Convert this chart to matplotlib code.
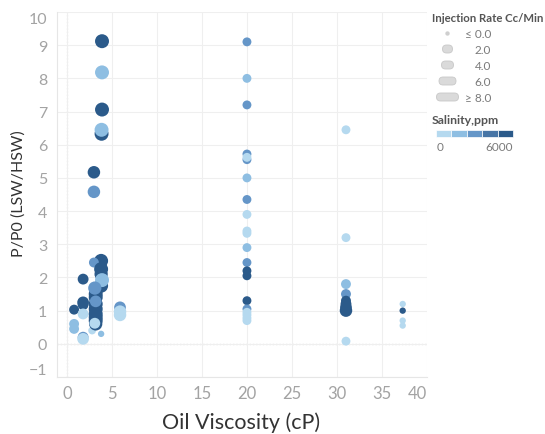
import matplotlib.pyplot as plt
from matplotlib.patches import FancyBboxPatch, Rectangle
from matplotlib.colors import BoundaryNorm, ListedColormap

plt.rcParams['font.family'] = ['Lato', 'DejaVu Sans']

# oil viscosity (cP), pressure ratio, salinity (ppm), injection rate (cc/min)
# one line per column of points
visc = [3.9, 3.9, 3.9, 3.85, 3.85, 3.0, 3.0,
        0.8, 0.8, 0.8, 1.8, 1.8, 1.8, 1.8, 1.8, 1.8, 2.8, 3.8,
        3.8, 3.0, 3.8, 3.8, 3.8, 3.2, 3.2, 3.2, 3.2, 3.2, 3.2, 3.2, 3.2, 3.2, 3.9, 3.1, 3.2, 3.1,
        5.9, 5.9, 5.9,
        20, 20, 20, 20, 20, 20, 20, 20, 20, 20, 20, 20, 20, 20, 20, 20, 20, 20, 20, 20, 20,
        31, 31, 31, 31, 31, 31, 31, 31, 31,
        37.3, 37.3, 37.3, 37.3]
ratio = [9.12, 8.18, 7.06, 6.33, 6.45, 5.17, 4.58,
         1.03, 0.6, 0.45, 1.95, 1.25, 1.18, 0.9, 0.2, 0.15, 0.4, 0.3,
         2.5, 2.45, 2.25, 2.1, 1.75, 1.6, 1.5, 1.4, 1.2, 1.05, 0.9, 0.8, 0.7, 0.6, 1.92, 1.68, 1.28, 0.62,
         1.1, 0.97, 0.87,
         9.1, 8.0, 7.2, 5.55, 5.72, 5.62, 5.0, 4.35, 3.9, 3.4, 3.33, 2.9, 2.45, 2.2, 2.05, 1.3, 1.05, 0.95, 0.87, 0.78, 0.7,
         6.45, 3.2, 1.8, 1.5, 1.3, 1.2, 1.1, 1.0, 0.08,
         1.2, 1.0, 0.7, 0.55]
salinity = [5800, 2000, 5800, 5800, 2000, 5800, 3000,
            5800, 2000, 2000, 5800, 5800, 5800, 500, 3000, 500, 500, 2000,
            5800, 3000, 5800, 5800, 5800, 5800, 5800, 5800, 5800, 5800, 5800, 5800, 5800, 5800, 2000, 3000, 3000, 500,
            3000, 500, 500,
            3000, 2000, 3000, 3000, 3000, 500, 2000, 3000, 500, 500, 500, 2000, 3000, 5800, 5800, 5800, 3000, 500, 500, 500, 500,
            500, 500, 2000, 3000, 5800, 5800, 5800, 5800, 500,
            500, 5800, 500, 500]
rate = [8, 8, 8, 8, 8, 6, 6,
        3, 3, 3, 4, 5, 4, 4, 4, 5, 1, 0,
        8, 3, 8, 7, 8, 7, 8, 8, 8, 8, 8, 8, 8, 7, 8, 7, 5, 4,
        5, 6, 6,
        2, 2, 2, 2, 2, 2, 2, 2, 2, 2, 2, 2, 2, 2, 2, 2, 2, 2, 2, 2, 2,
        2, 2, 3, 3, 3, 4, 5, 6, 2,
        0, 0, 0, 0]

blues = ['#b5d9ef', '#8ebee2', '#6596c8', '#4775a6', '#2b5a8a']
cmap = ListedColormap(blues)
norm = BoundaryNorm([0, 1200, 2400, 3600, 4800, 6000], cmap.N)

fig = plt.figure(figsize=(5.45, 4.35), dpi=100)
ax = fig.add_axes([57 / 545, 1 - 378 / 435, 370 / 545, 365 / 435])

sizes = [21 + r * 10 for r in rate]
ax.scatter(visc, ratio, s=sizes, c=salinity, cmap=cmap, norm=norm,
           linewidths=0, zorder=3)

ax.set_xlim(-1.1, 40)
ax.set_ylim(-1, 10)
ax.set_xticks(range(0, 41, 5))
ax.set_yticks(range(-1, 11))
ax.grid(True, color='#efefef', linewidth=0.8, zorder=0)
ax.axhline(0, color='#c8c8c8', linewidth=0.9, linestyle=':', zorder=1)
ax.axvline(0, color='#dcdcdc', linewidth=0.9, linestyle=':', zorder=1)
for side in ['top', 'right']:
    ax.spines[side].set_visible(False)
for side in ['left', 'bottom']:
    ax.spines[side].set_color('#e6e6e6')
ax.tick_params(length=0, colors='#a3a3a3')
ax.tick_params(axis='x', labelsize=12, pad=6)
ax.tick_params(axis='y', labelsize=11.5, pad=7)

ylabels = ax.get_yticklabels()
ylabels[0].set_verticalalignment('bottom')
ylabels[-1].set_verticalalignment('top')
ax.get_xticklabels()[-1].set_horizontalalignment('right')

fig.text(241 / 545, 1 - 423 / 435, 'Oil Viscosity (cP)', fontsize=15.5,
         color='#333333', ha='center', va='center')
fig.text(19 / 545, 1 - 194 / 435, 'P/P0 (LSW/HSW)', fontsize=11.5,
         color='#333333', ha='center', va='center', rotation=90)

# legends, drawn in pixel coordinates
leg = fig.add_axes([0, 0, 1, 1], zorder=5)
leg.set_xlim(0, 545)
leg.set_ylim(435, 0)
leg.axis('off')
leg.patch.set_alpha(0)

leg.text(432, 18, 'Injection Rate Cc/Min', fontsize=8.2, fontweight='bold',
         color='#555555', va='center')
size_labels = ['≤ 0.0', '2.0', '4.0', '6.0', '≥ 8.0']
pill_w = [4, 10, 12, 17, 22]
for i, (lab, w) in enumerate(zip(size_labels, pill_w)):
    y = 34 + i * 16
    if i == 0:
        leg.scatter([447], [y], s=10, color='#cfcfcf', linewidths=0)
    else:
        leg.add_patch(FancyBboxPatch((447.5 - w / 2, y - 4), w, 8,
                                     boxstyle='round,pad=0,rounding_size=4',
                                     facecolor='#dadada', edgecolor='#c8c8c8',
                                     linewidth=0.6))
    leg.text(491, y, lab, fontsize=8.5, color='#7a7a7a', ha='right', va='center')

leg.text(432, 121, 'Salinity,ppm', fontsize=8.8, fontweight='bold',
         color='#555555', va='center')
for i, col in enumerate(blues):
    leg.add_patch(Rectangle((436 + i * 15.4, 131), 15.4, 7, facecolor=col,
                            edgecolor='white', linewidth=0.5))
leg.text(437, 148, '0', fontsize=8.5, color='#7a7a7a', va='center')
leg.text(513, 148, '6000', fontsize=8.5, color='#7a7a7a', va='center', ha='right')

fig.savefig('out.png', dpi=100)
